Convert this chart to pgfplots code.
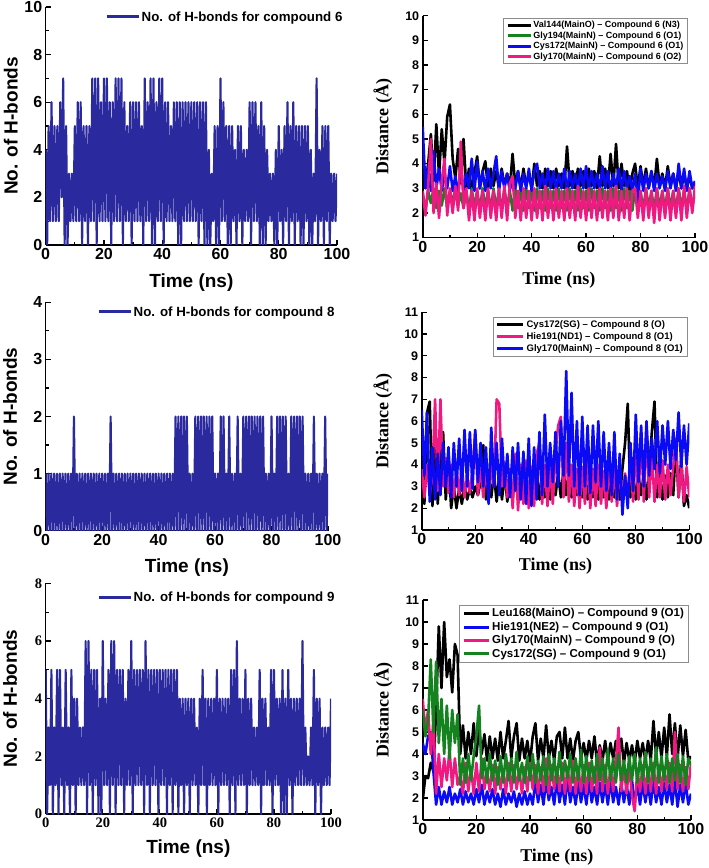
\documentclass[border=0pt]{standalone}
\usepackage{pgfplots}
\pgfplotsset{compat=1.18}
\usepackage{pgfplotstable}
\usepackage{fontspec}
\setmainfont{Liberation Sans}
\newfontfamily\tnr{Liberation Serif}
\definecolor{hbc}{RGB}{42,42,158}
\definecolor{cgreen}{RGB}{20,130,30}
\definecolor{cblue}{RGB}{10,10,245}
\definecolor{cpink}{RGB}{240,25,130}

\pgfplotstableread[row sep=\\]{t y\\0 4\\0.5 0\\1 5\\1.5 1\\2 6\\2.5 1\\3 5\\3.5 1\\4 5\\4.5 1\\5 6\\5.5 2\\6 7\\6.5 0\\7 5\\7.5 0\\8 3\\8.5 1\\9 3\\9.5 1\\10 5\\10.5 1\\11 6\\11.5 1\\12 6\\12.5 0\\13 5\\13.5 1\\14 5\\14.5 0\\15 5\\15.5 1\\16 7\\16.5 1\\17 7\\17.5 0\\18 7\\18.5 1\\19 6\\19.5 1\\20 7\\20.5 1\\21 7\\21.5 1\\22 6\\22.5 0\\23 6\\23.5 1\\24 7\\24.5 1\\25 7\\25.5 1\\26 7\\26.5 0\\27 6\\27.5 1\\28 5\\28.5 1\\29 6\\29.5 0\\30 6\\30.5 1\\31 6\\31.5 1\\32 6\\32.5 1\\33 5\\33.5 0\\34 7\\34.5 1\\35 6\\35.5 1\\36 7\\36.5 0\\37 7\\37.5 0\\38 6\\38.5 1\\39 7\\39.5 1\\40 7\\40.5 0\\41 6\\41.5 1\\42 6\\42.5 1\\43 5\\43.5 1\\44 6\\44.5 1\\45 6\\45.5 0\\46 6\\46.5 0\\47 6\\47.5 1\\48 6\\48.5 1\\49 6\\49.5 1\\50 6\\50.5 1\\51 6\\51.5 1\\52 6\\52.5 0\\53 6\\53.5 1\\54 6\\54.5 0\\55 6\\55.5 0\\56 4\\56.5 0\\57 3\\57.5 1\\58 5\\58.5 0\\59 5\\59.5 0\\60 7\\60.5 1\\61 6\\61.5 1\\62 5\\62.5 0\\63 5\\63.5 0\\64 5\\64.5 1\\65 4\\65.5 0\\66 5\\66.5 1\\67 5\\67.5 0\\68 4\\68.5 1\\69 4\\69.5 1\\70 6\\70.5 0\\71 6\\71.5 1\\72 6\\72.5 1\\73 5\\73.5 0\\74 6\\74.5 0\\75 5\\75.5 0\\76 4\\76.5 1\\77 3\\77.5 1\\78 3\\78.5 0\\79 4\\79.5 0\\80 5\\80.5 1\\81 4\\81.5 0\\82 5\\82.5 1\\83 6\\83.5 0\\84 5\\84.5 1\\85 6\\85.5 0\\86 5\\86.5 1\\87 5\\87.5 0\\88 5\\88.5 0\\89 5\\89.5 1\\90 5\\90.5 0\\91 4\\91.5 0\\92 3\\92.5 1\\93 7\\93.5 0\\94 4\\94.5 1\\95 5\\95.5 0\\96 5\\96.5 1\\97 5\\97.5 0\\98 3\\98.5 1\\99 3\\99.5 1\\100 3\\}\hsix

\pgfplotstableread[row sep=\\]{t y\\0 1\\0.5 0\\1 1\\1.5 0\\2 1\\2.5 0\\3 1\\3.5 0\\4 1\\4.5 0\\5 1\\5.5 0\\6 1\\6.5 0\\7 1\\7.5 0\\8 1\\8.5 0\\9 1\\9.5 0\\10 2\\10.5 0\\11 1\\11.5 0\\12 1\\12.5 0\\13 1\\13.5 0\\14 1\\14.5 0\\15 1\\15.5 0\\16 1\\16.5 0\\17 1\\17.5 0\\18 1\\18.5 0\\19 1\\19.5 0\\20 1\\20.5 0\\21 1\\21.5 0\\22 1\\22.5 0\\23 2\\23.5 0\\24 1\\24.5 0\\25 1\\25.5 0\\26 1\\26.5 0\\27 1\\27.5 0\\28 1\\28.5 0\\29 1\\29.5 0\\30 1\\30.5 0\\31 1\\31.5 0\\32 1\\32.5 0\\33 1\\33.5 0\\34 1\\34.5 0\\35 1\\35.5 0\\36 1\\36.5 0\\37 1\\37.5 0\\38 1\\38.5 0\\39 1\\39.5 0\\40 1\\40.5 0\\41 1\\41.5 0\\42 1\\42.5 0\\43 1\\43.5 0\\44 1\\44.5 0\\45 1\\45.5 0\\46 2\\46.5 0\\47 2\\47.5 0\\48 2\\48.5 0\\49 2\\49.5 0\\50 2\\50.5 0\\51 1\\51.5 0\\52 1\\52.5 0\\53 2\\53.5 0\\54 2\\54.5 0\\55 2\\55.5 0\\56 2\\56.5 0\\57 2\\57.5 0\\58 2\\58.5 0\\59 2\\59.5 0\\60 1\\60.5 0\\61 1\\61.5 0\\62 2\\62.5 0\\63 2\\63.5 0\\64 1\\64.5 0\\65 2\\65.5 0\\66 1\\66.5 0\\67 1\\67.5 0\\68 2\\68.5 0\\69 1\\69.5 0\\70 2\\70.5 0\\71 2\\71.5 0\\72 2\\72.5 0\\73 2\\73.5 0\\74 2\\74.5 0\\75 2\\75.5 0\\76 2\\76.5 0\\77 2\\77.5 0\\78 1\\78.5 0\\79 1\\79.5 0\\80 2\\80.5 0\\81 1\\81.5 0\\82 2\\82.5 0\\83 2\\83.5 0\\84 2\\84.5 0\\85 2\\85.5 0\\86 1\\86.5 0\\87 2\\87.5 0\\88 2\\88.5 0\\89 2\\89.5 0\\90 2\\90.5 0\\91 2\\91.5 0\\92 1\\92.5 0\\93 1\\93.5 0\\94 1\\94.5 0\\95 2\\95.5 0\\96 1\\96.5 0\\97 1\\97.5 0\\98 1\\98.5 0\\99 2\\99.5 0\\100 1\\}\height

\pgfplotstableread[row sep=\\]{t y\\0 5\\0.5 0\\1 3\\1.5 1\\2 5\\2.5 0\\3 3\\3.5 1\\4 5\\4.5 0\\5 5\\5.5 1\\6 3\\6.5 0\\7 5\\7.5 1\\8 3\\8.5 0\\9 5\\9.5 1\\10 4\\10.5 0\\11 4\\11.5 1\\12 3\\12.5 1\\13 3\\13.5 1\\14 6\\14.5 0\\15 6\\15.5 1\\16 5\\16.5 0\\17 5\\17.5 1\\18 5\\18.5 0\\19 4\\19.5 0\\20 6\\20.5 1\\21 4\\21.5 1\\22 5\\22.5 0\\23 6\\23.5 1\\24 6\\24.5 0\\25 5\\25.5 1\\26 5\\26.5 1\\27 5\\27.5 0\\28 4\\28.5 1\\29 5\\29.5 1\\30 6\\30.5 0\\31 5\\31.5 1\\32 5\\32.5 1\\33 5\\33.5 1\\34 5\\34.5 0\\35 6\\35.5 1\\36 5\\36.5 0\\37 5\\37.5 1\\38 5\\38.5 1\\39 5\\39.5 0\\40 5\\40.5 1\\41 5\\41.5 1\\42 5\\42.5 0\\43 5\\43.5 1\\44 5\\44.5 0\\45 5\\45.5 1\\46 5\\46.5 0\\47 4\\47.5 1\\48 4\\48.5 0\\49 4\\49.5 1\\50 4\\50.5 0\\51 4\\51.5 1\\52 4\\52.5 1\\53 3\\53.5 0\\54 4\\54.5 1\\55 5\\55.5 1\\56 4\\56.5 0\\57 4\\57.5 1\\58 4\\58.5 1\\59 4\\59.5 1\\60 5\\60.5 0\\61 4\\61.5 1\\62 4\\62.5 1\\63 4\\63.5 1\\64 4\\64.5 0\\65 5\\65.5 1\\66 5\\66.5 0\\67 6\\67.5 1\\68 4\\68.5 1\\69 4\\69.5 1\\70 5\\70.5 0\\71 4\\71.5 1\\72 4\\72.5 1\\73 3\\73.5 1\\74 3\\74.5 1\\75 5\\75.5 0\\76 4\\76.5 1\\77 4\\77.5 1\\78 3\\78.5 1\\79 5\\79.5 0\\80 5\\80.5 1\\81 4\\81.5 1\\82 4\\82.5 0\\83 5\\83.5 0\\84 4\\84.5 0\\85 5\\85.5 1\\86 4\\86.5 0\\87 4\\87.5 1\\88 4\\88.5 1\\89 4\\89.5 1\\90 6\\90.5 1\\91 3\\91.5 1\\92 2\\92.5 1\\93 3\\93.5 1\\94 5\\94.5 0\\95 4\\95.5 1\\96 4\\96.5 0\\97 3\\97.5 1\\98 3\\98.5 1\\99 3\\99.5 1\\100 4\\}\hnine

\pgfplotstableread[row sep=\\]{t a b c d\\
0 3.8 2.8 5.5 2.9\\1 3.1 2.1 3.0 1.9\\2 4.0 2.9 3.9 3.1\\3 5.2 2.4 2.9 5.0\\4 3.3 3.0 4.5 2.0\\5 5.6 2.2 3.0 3.2\\6 3.5 2.9 3.8 1.8\\7 5.4 2.3 2.9 3.3\\8 4.0 3.0 3.6 4.2\\9 5.9 2.2 3.0 1.9\\
10 6.4 2.9 3.9 3.0\\11 4.2 2.4 2.9 2.0\\12 3.4 3.0 3.5 3.1\\13 4.6 2.3 2.8 2.1\\14 3.2 2.8 3.8 4.9\\15 5.0 2.2 2.9 2.2\\16 3.0 2.9 3.6 3.0\\17 3.8 2.1 3.0 1.7\\18 2.9 3.0 4.2 2.9\\19 3.6 2.2 2.9 1.7\\
20 4.3 2.9 4.1 3.0\\21 3.0 2.1 3.0 1.8\\22 3.7 3.0 3.7 2.9\\23 4.1 2.2 2.9 1.7\\24 3.0 2.9 3.8 3.0\\25 3.8 2.1 3.0 1.8\\26 3.1 3.0 3.6 2.9\\27 3.7 2.2 4.3 1.7\\28 3.0 2.9 2.9 3.0\\29 3.8 2.1 3.7 1.8\\
30 3.1 3.0 3.0 3.1\\31 3.6 2.2 3.6 1.7\\32 3.0 2.9 2.9 3.2\\33 4.4 2.1 3.5 3.5\\34 3.1 3.0 3.0 1.8\\35 3.7 2.2 3.7 2.9\\36 3.0 2.9 2.9 1.7\\37 3.8 2.1 3.6 3.0\\38 3.1 3.0 3.0 1.8\\39 3.6 2.2 3.8 2.9\\
40 3.0 2.9 2.9 1.7\\41 4.0 2.1 3.7 3.0\\42 3.1 3.0 4.0 1.8\\43 3.7 2.2 3.0 2.9\\44 3.0 2.9 3.6 1.7\\45 3.8 2.1 2.9 3.1\\46 3.1 3.0 3.8 1.8\\47 3.7 2.2 3.0 2.9\\48 3.0 2.9 3.7 1.7\\49 3.8 2.1 2.9 3.0\\
50 3.1 3.0 3.6 1.8\\51 3.6 2.2 3.0 2.9\\52 3.0 2.9 3.8 1.7\\53 4.7 2.1 2.9 3.0\\54 3.1 3.0 3.7 1.8\\55 3.7 2.2 3.0 2.9\\56 3.0 2.9 3.6 1.7\\57 3.8 2.1 2.9 3.1\\58 3.1 3.0 3.8 1.8\\59 3.7 2.2 3.0 2.9\\
60 3.0 2.9 3.9 1.7\\61 3.8 2.1 2.9 3.0\\62 3.1 3.0 3.7 1.8\\63 3.7 2.2 3.0 2.9\\64 3.0 2.9 3.6 1.7\\65 4.3 2.1 2.9 3.0\\66 3.1 3.0 3.9 1.8\\67 3.8 2.2 3.0 2.9\\68 3.0 2.9 3.7 1.7\\69 4.4 2.1 2.9 3.0\\
70 3.1 3.0 3.6 1.8\\71 4.8 2.2 3.0 3.1\\72 3.0 2.9 3.8 1.7\\73 4.0 2.1 2.9 2.9\\74 3.1 3.0 3.7 1.8\\75 3.7 2.2 3.0 3.0\\76 2.9 2.9 3.5 1.7\\77 3.6 2.1 2.9 2.9\\78 4.0 3.0 3.6 3.0\\79 3.0 2.2 2.4 1.8\\
80 3.9 2.9 3.8 2.9\\81 3.1 2.1 2.9 1.7\\82 3.8 3.0 3.6 3.0\\83 3.0 2.2 3.0 1.8\\84 3.7 2.9 3.7 2.9\\85 3.0 2.1 2.9 1.6\\86 4.2 3.0 3.6 3.0\\87 3.1 2.2 3.0 1.7\\88 3.6 2.9 3.5 2.9\\89 3.0 2.1 2.9 1.8\\
90 3.9 3.0 3.7 3.0\\91 3.1 2.2 3.0 1.7\\92 3.6 2.9 3.6 2.9\\93 3.0 2.1 2.9 1.8\\94 3.7 3.0 4.0 3.0\\95 3.0 2.2 3.0 1.7\\96 3.6 2.9 3.8 3.1\\97 3.0 2.1 2.9 1.8\\98 3.5 3.0 3.7 3.0\\99 3.0 2.2 3.0 2.0\\100 3.2 2.9 3.3 3.1\\}\dsix

\pgfplotstableread[row sep=\\]{t a b c\\
0 4.2 3.8 6.5\\1 2.2 2.5 3.5\\2 6.4 4.0 6.4\\3 6.9 2.6 2.3\\4 2.1 3.5 4.8\\5 4.8 7.0 2.4\\6 2.2 2.8 4.5\\7 4.5 7.0 2.6\\8 5.5 3.0 5.0\\9 2.4 4.3 3.0\\
10 4.3 2.7 4.8\\11 2.0 4.0 2.5\\12 3.0 2.5 5.0\\13 2.0 3.8 3.0\\14 2.9 2.6 5.2\\15 2.2 4.0 2.8\\16 3.0 2.5 5.6\\17 2.4 3.5 3.0\\18 2.9 2.7 5.5\\19 2.5 3.8 2.9\\
20 3.0 5.5 5.6\\21 2.6 2.6 3.2\\22 3.2 4.0 5.0\\23 4.9 2.5 3.0\\24 2.4 3.8 4.8\\25 3.5 2.6 2.2\\26 2.5 3.9 5.7\\27 3.6 3.0 3.0\\28 2.3 7.0 5.0\\29 3.5 6.8 2.6\\
30 2.4 3.0 5.2\\31 3.6 4.1 3.0\\32 2.3 2.5 4.5\\33 3.8 3.8 2.5\\34 2.5 2.0 4.8\\35 3.5 4.5 2.8\\36 2.4 1.9 5.0\\37 3.6 4.0 2.4\\38 2.3 2.2 4.6\\39 3.7 4.2 2.2\\
40 2.4 2.0 5.2\\41 3.5 3.9 2.1\\42 2.5 2.1 4.8\\43 3.6 4.5 2.4\\44 2.4 5.0 5.5\\45 3.7 2.2 2.6\\46 2.5 4.0 6.3\\47 3.6 2.1 3.0\\48 2.4 3.9 5.0\\49 3.5 2.2 3.2\\
50 2.6 4.5 5.5\\51 3.6 5.8 3.0\\52 2.5 6.2 6.0\\53 3.8 2.5 3.5\\54 2.6 5.0 8.3\\55 3.7 2.3 3.5\\56 2.5 4.0 7.3\\57 3.9 2.1 3.0\\58 2.6 3.8 6.0\\59 3.8 2.0 2.6\\
60 2.5 3.9 6.2\\61 3.6 2.2 3.0\\62 2.4 4.5 5.8\\63 3.5 2.0 2.7\\64 2.5 3.8 5.8\\65 3.6 2.1 3.2\\66 2.4 4.0 6.0\\67 3.5 2.2 3.0\\68 2.5 3.7 5.5\\69 3.6 2.0 2.8\\
70 2.4 4.1 5.0\\71 3.5 2.3 2.6\\72 2.5 3.8 5.5\\73 3.6 2.1 2.4\\74 2.4 3.9 4.5\\75 3.8 2.2 1.7\\76 5.0 3.6 3.5\\77 6.8 2.4 2.0\\78 2.5 4.2 5.0\\79 3.6 2.3 2.8\\
80 2.4 4.8 6.3\\81 3.5 2.4 3.2\\82 2.6 5.5 5.8\\83 3.6 2.3 3.0\\84 2.4 5.8 6.0\\85 3.8 2.5 3.5\\86 5.5 4.5 5.2\\87 6.9 2.3 3.8\\88 2.5 4.0 6.0\\89 3.6 2.5 3.6\\
90 2.4 4.2 5.8\\91 3.5 2.4 4.0\\92 2.5 4.0 6.0\\93 3.6 2.6 3.8\\94 2.6 3.9 5.6\\95 4.9 5.2 4.2\\96 2.5 2.5 6.4\\97 4.3 4.0 3.9\\98 2.1 2.3 5.8\\99 2.6 3.9 4.0\\100 2.0 2.5 5.9\\}\deight

\pgfplotstableread[row sep=\\]{t a b c d\\
0 1.9 4.5 6.5 6.0\\1 3.0 4.0 5.0 4.8\\2 2.9 4.8 6.0 5.5\\3 3.6 5.0 4.0 8.3\\4 3.2 3.2 5.5 5.0\\5 6.0 1.7 2.2 8.2\\6 9.8 2.5 4.0 4.5\\7 7.0 1.7 2.5 6.5\\8 10.0 2.3 3.8 4.0\\9 7.5 1.8 2.8 6.2\\
10 8.3 2.5 4.2 3.8\\11 6.8 1.7 2.5 6.0\\12 9.0 2.2 3.8 4.5\\13 8.5 1.8 2.6 5.8\\14 4.0 2.4 3.0 2.6\\15 5.3 1.7 2.2 3.8\\16 3.8 2.3 3.6 2.7\\17 5.0 1.8 2.3 4.0\\18 4.0 2.2 3.4 2.8\\19 5.4 1.7 2.2 3.9\\
20 3.9 2.4 3.6 4.8\\21 5.2 1.8 2.3 6.2\\22 4.0 2.6 3.8 2.9\\23 4.9 1.7 2.4 3.8\\24 3.7 2.3 3.2 2.7\\25 4.8 1.8 2.3 4.0\\26 3.8 2.4 3.5 2.8\\27 4.7 1.7 2.2 3.7\\28 3.7 2.2 3.4 2.6\\29 5.0 1.6 2.4 3.9\\
30 3.8 2.4 3.3 2.7\\31 4.6 1.7 2.2 4.0\\32 5.5 2.2 3.6 2.8\\33 3.8 1.8 2.3 3.8\\34 4.8 2.3 3.5 2.7\\35 5.4 1.6 2.4 4.1\\36 3.7 2.2 3.3 2.8\\37 4.7 1.7 2.2 3.6\\38 3.8 2.3 3.4 2.7\\39 4.6 1.7 2.3 3.9\\
40 3.6 2.2 3.6 2.8\\41 4.8 1.7 2.4 4.0\\42 5.4 2.8 3.5 2.7\\43 3.7 1.8 2.2 3.7\\44 4.7 2.6 3.4 2.8\\45 3.8 1.7 2.3 3.9\\46 5.3 2.8 3.8 2.6\\47 3.8 1.9 2.2 4.0\\48 4.6 2.5 3.5 2.8\\49 3.7 1.7 2.4 3.8\\
50 4.8 2.8 3.4 2.7\\51 5.0 1.8 2.3 4.1\\52 3.8 2.6 3.6 2.8\\53 5.2 1.7 2.2 3.7\\54 3.8 2.9 3.4 2.9\\55 4.7 1.8 2.3 4.0\\56 3.7 2.5 3.7 2.7\\57 4.6 1.7 2.2 3.8\\58 5.0 2.7 3.4 2.8\\59 3.8 1.8 2.3 4.2\\
60 4.5 2.6 3.5 2.7\\61 3.7 1.7 2.2 3.9\\62 4.6 2.8 3.6 2.8\\63 3.8 1.8 2.3 3.7\\64 4.8 2.5 3.4 2.7\\65 3.6 1.7 2.2 4.0\\66 4.4 2.7 4.3 2.8\\67 3.7 1.8 2.3 3.8\\68 4.6 2.6 3.5 2.7\\69 3.7 1.7 2.2 4.2\\
70 4.5 2.8 3.4 2.8\\71 3.8 1.8 2.3 3.8\\72 4.6 2.5 3.6 2.7\\73 3.7 1.7 5.2 4.0\\74 4.7 2.7 2.3 2.8\\75 3.6 1.8 3.4 3.7\\76 4.5 2.6 2.2 2.7\\77 3.7 1.7 3.5 3.9\\78 4.4 2.8 2.1 2.8\\79 3.6 1.8 1.4 4.0\\
80 4.6 2.6 3.3 2.7\\81 3.8 1.7 2.3 3.8\\82 4.5 2.7 3.5 2.8\\83 3.7 1.8 2.2 4.1\\84 4.6 2.6 3.4 2.7\\85 3.7 1.7 2.3 3.8\\86 5.5 2.8 3.6 2.8\\87 3.9 1.8 2.2 4.3\\88 5.0 2.5 3.5 2.7\\89 3.8 1.7 2.3 3.9\\
90 5.2 2.7 3.4 2.8\\91 3.9 1.8 2.4 4.0\\92 5.8 2.6 3.6 2.7\\93 4.0 1.7 2.3 3.8\\94 5.4 2.8 5.0 2.8\\95 3.8 1.6 2.4 4.0\\96 5.3 2.6 3.5 2.7\\97 3.9 1.8 2.3 3.9\\98 5.1 2.7 3.4 2.6\\99 3.7 1.7 2.4 3.8\\100 3.9 2.2 3.6 3.5\\}\dnine

\pgfplotsset{
  panel/.style={scale only axis, xmin=0, xmax=100,
    axis x line*=bottom, axis y line*=left,
    axis line style={line width=1.6pt,-},
    tick align=inside, major tick length=5pt, minor tick length=3pt,
    every tick/.append style={black,line width=1.2pt},
    xtick={0,20,...,100}, minor x tick num=1,
    /pgf/number format/assume math mode=true,
    legend cell align=left},
  hbpanel/.style={panel,
    tick label style={font=\fontsize{16}{16}\selectfont\bfseries},
    ylabel={No. of H-bonds}, xlabel={Time (ns)},
    label style={font=\fontsize{19}{19}\selectfont\bfseries},
    legend style={draw=none, fill=none, inner sep=0pt,
      font=\fontsize{13.3}{14}\selectfont\bfseries, nodes={inner sep=1.5pt}},
    legend image code/.code={\draw[##1,line width=3pt] (0pt,0pt)--(32pt,0pt);}},
  dpanel/.style={panel,
    xticklabel style={font=\fontsize{16}{16}\selectfont\bfseries},
    yticklabel style={font=\fontsize{12.5}{12.5}\selectfont\bfseries},
    ylabel={Distance (Å)}, xlabel={Time (ns)},
    label style={font=\tnr\fontsize{18}{18}\selectfont\bfseries},
    legend style={draw=black!45, line width=0.6pt, fill=white, inner xsep=3pt, inner ysep=1.5pt},
    legend image code/.code={\draw[##1,line width=3pt] (0pt,0pt)--(23pt,0pt);}},
  hbline/.style={color=hbc, line width=2.1pt, line join=round},
  dline/.style={line width=2.6pt, line join=round},
}

\begin{document}
\begin{tikzpicture}
\path[use as bounding box] (0,0) rectangle (709pt,868pt);

% top left
\begin{axis}[hbpanel, at={(45.7pt,623pt)}, anchor=south west,
  width=291.3pt, height=238pt, ymin=0, ymax=10, ytick={0,2,...,10}, minor y tick num=1,
  xlabel style={at={(axis description cs:0.5,-0.16)}, anchor=center},
  ylabel style={at={(axis description cs:-0.12,0.5)}, anchor=center},
  legend style={at={(axis description cs:0.2036,0.958)}, anchor=west}]
\addplot[hbline] table[x=t,y=y] {\hsix};
\addlegendentry{No. of H-bonds for compound 6}
\end{axis}

% top right
\begin{axis}[dpanel, at={(422.7pt,630.3pt)}, anchor=south west,
  width=272.3pt, height=222pt, ymin=1, ymax=10, ytick={1,...,10},
  xlabel style={at={(axis description cs:0.5,-0.19)}, anchor=center},
  ylabel style={at={(axis description cs:-0.146,0.5)}, anchor=center},
  legend style={at={(axis description cs:0.974,0.99)}, anchor=north east,
    font=\fontsize{9}{9}\selectfont\bfseries, nodes={inner sep=1.3pt}}]
\addplot[dline, black] table[x=t,y=a] {\dsix};
\addlegendentry{Val144(MainO) – Compound 6 (N3)}
\addplot[dline, cgreen] table[x=t,y=b] {\dsix};
\addlegendentry{Gly194(MainN) – Compound 6 (O1)}
\addplot[dline, cblue] table[x=t,y=c] {\dsix};
\addlegendentry{Cys172(MainN) – Compound 6 (O1)}
\addplot[dline, cpink] table[x=t,y=d] {\dsix};
\addlegendentry{Gly170(MainN) – Compound 6 (O2)}
\end{axis}

% middle left
\begin{axis}[hbpanel, at={(45.7pt,337.3pt)}, anchor=south west,
  width=282.3pt, height=228.4pt, ymin=0, ymax=4, ytick={0,1,...,4}, minor y tick num=1,
  xlabel style={at={(axis description cs:0.5,-0.16)}, anchor=center},
  ylabel style={at={(axis description cs:-0.126,0.5)}, anchor=center},
  legend style={at={(axis description cs:0.1817,0.9576)}, anchor=west}]
\addplot[hbline] table[x=t,y=y] {\height};
\addlegendentry{No. of H-bonds for compound 8}
\end{axis}

% middle right
\begin{axis}[dpanel, at={(421.7pt,338pt)}, anchor=south west,
  width=267.6pt, height=217.7pt, ymin=1, ymax=11, ytick={1,...,11},
  xlabel style={at={(axis description cs:0.5,-0.165)}, anchor=center},
  ylabel style={at={(axis description cs:-0.145,0.5)}, anchor=center},
  legend style={at={(axis description cs:0.995,0.978)}, anchor=north east,
    font=\fontsize{9.5}{9.5}\selectfont\bfseries, nodes={inner sep=1.8pt}},
  legend image code/.code={\draw[#1,line width=3pt] (0pt,0pt)--(26pt,0pt);}]
\addplot[dline, black] table[x=t,y=a] {\deight};
\addlegendentry{Cys172(SG) – Compound 8 (O)}
\addplot[dline, cpink] table[x=t,y=b] {\deight};
\addlegendentry{Hie191(ND1) – Compound 8 (O1)}
\addplot[dline, cblue] table[x=t,y=c] {\deight};
\addlegendentry{Gly170(MainN) – Compound 8 (O1)}
\end{axis}

% bottom left
\begin{axis}[hbpanel, at={(45.7pt,54pt)}, anchor=south west,
  width=285.3pt, height=230.7pt, ymin=0, ymax=8, ytick={0,2,...,8}, minor y tick num=1,
  tick label style={font=\tnr\fontsize{14.5}{14.5}\selectfont\bfseries},
  xlabel style={at={(axis description cs:0.5,-0.152)}, anchor=center},
  ylabel style={at={(axis description cs:-0.125,0.5)}, anchor=center},
  legend style={at={(axis description cs:0.1798,0.9406)}, anchor=west}]
\addplot[hbline] table[x=t,y=y] {\hnine};
\addlegendentry{No. of H-bonds for compound 9}
\end{axis}

% bottom right
\begin{axis}[dpanel, at={(422.7pt,48pt)}, anchor=south west,
  width=268.3pt, height=220pt, ymin=1, ymax=11, ytick={1,...,11},
  xlabel style={at={(axis description cs:0.5,-0.168)}, anchor=center},
  ylabel style={at={(axis description cs:-0.148,0.5)}, anchor=center},
  legend style={at={(axis description cs:0.9925,0.977)}, anchor=north east,
    font=\fontsize{11.5}{11.5}\selectfont\bfseries, nodes={inner sep=1.8pt}},
  legend image code/.code={\draw[#1,line width=3pt] (0pt,0pt)--(25pt,0pt);}]
\addplot[dline, black] table[x=t,y=a] {\dnine};
\addlegendentry{Leu168(MainO) – Compound 9 (O1)}
\addplot[dline, cblue] table[x=t,y=b] {\dnine};
\addlegendentry{Hie191(NE2) – Compound 9 (O1)}
\addplot[dline, cpink] table[x=t,y=c] {\dnine};
\addlegendentry{Gly170(MainN) – Compound 9 (O)}
\addplot[dline, cgreen] table[x=t,y=d] {\dnine};
\addlegendentry{Cys172(SG) – Compound 9 (O1)}
\end{axis}
\end{tikzpicture}
\end{document}
